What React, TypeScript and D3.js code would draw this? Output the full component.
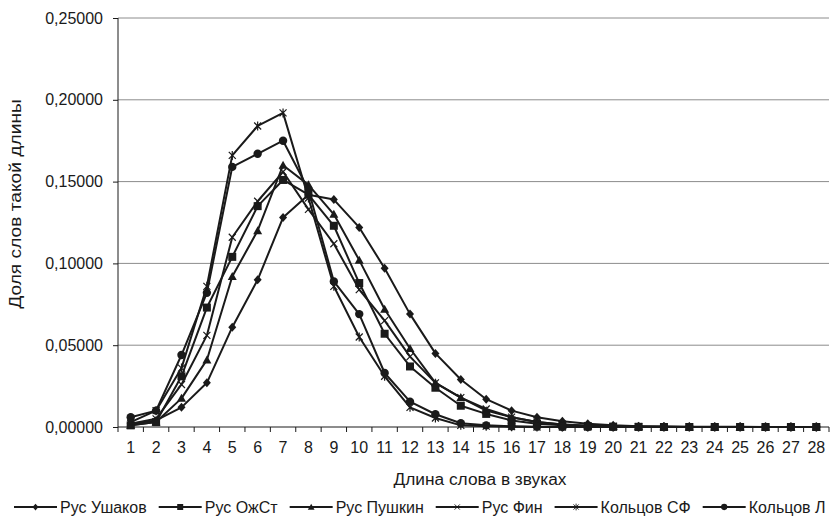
import React, { useEffect, useRef } from 'react';
import * as d3 from 'd3';

const lengths = d3.range(1, 29);
const yTicks = [0, 0.05, 0.1, 0.15, 0.2, 0.25];

const ushakov = [0.002, 0.004, 0.012, 0.027, 0.061, 0.090, 0.128, 0.142, 0.139, 0.122, 0.097, 0.069, 0.045, 0.029, 0.017, 0.010, 0.006, 0.0035, 0.002, 0.001, 0.0005, 0.0003, 0.0002, 0.0001, 0.0001, 0, 0, 0];
const ozhst = [0.001, 0.003, 0.031, 0.073, 0.104, 0.135, 0.151, 0.142, 0.123, 0.088, 0.057, 0.037, 0.024, 0.013, 0.008, 0.004, 0.002, 0.001, 0.0005, 0.0002, 0.0001, 0, 0, 0, 0, 0, 0, 0];
const pushkin = [0.001, 0.003, 0.0175, 0.041, 0.092, 0.120, 0.160, 0.148, 0.130, 0.102, 0.072, 0.048, 0.027, 0.018, 0.010, 0.006, 0.003, 0.0015, 0.0008, 0.0004, 0.0002, 0.0001, 0, 0, 0, 0, 0, 0];
const fin = [0.002, 0.005, 0.026, 0.056, 0.116, 0.138, 0.156, 0.133, 0.112, 0.084, 0.065, 0.043, 0.027, 0.018, 0.011, 0.006, 0.003, 0.0015, 0.0008, 0.0004, 0.0002, 0.0001, 0, 0, 0, 0, 0, 0];
const koltsovSF = [0.003, 0.010, 0.036, 0.086, 0.166, 0.184, 0.192, 0.140, 0.086, 0.055, 0.031, 0.012, 0.0055, 0.001, 0.0005, 0.0002, 0, 0, 0, 0, 0, 0, 0, 0, 0, 0, 0, 0];
const koltsovL = [0.006, 0.010, 0.044, 0.082, 0.159, 0.167, 0.175, 0.145, 0.089, 0.069, 0.033, 0.0155, 0.0078, 0.0023, 0.001, 0.0005, 0.0002, 0, 0, 0, 0, 0, 0, 0, 0, 0, 0, 0];

const seriesNames = ['Рус Ушаков', 'Рус ОжСт', 'Рус Пушкин', 'Рус Фин', 'Кольцов СФ', 'Кольцов Л'];
const seriesValues = [ushakov, ozhst, pushkin, fin, koltsovSF, koltsovL];
const markers = ['diamond', 'square', 'triangle', 'x', 'star', 'circle'];

const FONT = '"Liberation Sans", Arial, sans-serif';
const INK = '#1a1a1a';

function drawMarker(g: d3.Selection<SVGGElement, unknown, null, undefined>, kind: string, cx: number, cy: number, s = 1) {
  const t = `translate(${cx},${cy}) scale(${s})`;
  if (kind === 'diamond') {
    g.append('path').attr('transform', t).attr('d', 'M0,-4.5L4,0L0,4.5L-4,0Z').attr('fill', INK);
  } else if (kind === 'square') {
    g.append('path').attr('transform', t).attr('d', 'M-4,-4H4V4H-4Z').attr('fill', INK);
  } else if (kind === 'triangle') {
    g.append('path').attr('transform', t).attr('d', 'M0,-4.5L4.5,3.5L-4.5,3.5Z').attr('fill', INK);
  } else if (kind === 'x') {
    g.append('path').attr('transform', t).attr('d', 'M-3.5,-3.5L3.5,3.5M-3.5,3.5L3.5,-3.5')
      .attr('stroke', INK).attr('stroke-width', 1.2).attr('fill', 'none');
  } else if (kind === 'star') {
    g.append('path').attr('transform', t).attr('d', 'M-3.5,-3.5L3.5,3.5M-3.5,3.5L3.5,-3.5M0,-4.5L0,4.5')
      .attr('stroke', INK).attr('stroke-width', 1.2).attr('fill', 'none');
  } else {
    g.append('circle').attr('transform', t).attr('r', 4.2).attr('fill', INK);
  }
}

export default function App() {
  const svgRef = useRef<SVGSVGElement>(null);

  useEffect(() => {
    if (!svgRef.current) return;
    const svg = d3.select(svgRef.current);
    svg.selectAll('*').remove();

    const left = 118, right = 829, top = 18, bottom = 427;

    const x = d3.scaleBand<number>().domain(lengths).range([left, right]);
    const y = d3.scaleLinear().domain([0, 0.25]).range([bottom, top]);
    const cx = (d: number) => x(d)! + x.bandwidth() / 2;

    // gridlines
    svg.append('g')
      .selectAll('line')
      .data(yTicks.slice(1))
      .join('line')
      .attr('x1', left).attr('x2', right)
      .attr('y1', (d) => y(d)).attr('y2', (d) => y(d))
      .attr('stroke', '#8c8c8c').attr('stroke-width', 1);

    // y axis
    const yAxis = svg.append('g')
      .attr('transform', `translate(${left},0)`)
      .call(d3.axisLeft(y).tickValues(yTicks).tickSize(5).tickPadding(10)
        .tickFormat((d) => d3.format('.5f')(d as number).replace('.', ',')));
    yAxis.select('.domain').attr('stroke', INK).attr('d', `M0,${top}V${bottom}`);
    yAxis.selectAll('.tick line').attr('stroke', INK);
    yAxis.selectAll('text').attr('font-family', FONT).attr('font-size', 16).attr('fill', INK);

    // x axis
    const xAxis = svg.append('g').attr('transform', `translate(0,${bottom})`);
    xAxis.append('line').attr('x1', left).attr('x2', right).attr('stroke', INK);
    xAxis.selectAll('.xt')
      .data(d3.range(0, lengths.length + 1))
      .join('line')
      .attr('x1', (i) => left + i * x.step()).attr('x2', (i) => left + i * x.step())
      .attr('y1', 0).attr('y2', 5).attr('stroke', INK);
    xAxis.selectAll('text')
      .data(lengths)
      .join('text')
      .attr('x', (d) => cx(d)).attr('y', 26)
      .attr('text-anchor', 'middle')
      .attr('font-family', FONT).attr('font-size', 16).attr('fill', INK)
      .text((d) => d);

    // titles
    svg.append('text')
      .attr('x', 480).attr('y', 485)
      .attr('text-anchor', 'middle')
      .attr('font-family', FONT).attr('font-size', 17.3).attr('fill', INK)
      .text('Длина слова в звуках');
    svg.append('text')
      .attr('transform', `translate(21,204) scale(1,1.2) rotate(-90)`)
      .attr('text-anchor', 'middle')
      .attr('font-family', FONT).attr('font-size', 16).attr('fill', INK)
      .text('Доля слов такой длины');

    // series
    const line = d3.line<number>().x((_, i) => cx(lengths[i])).y((d) => y(d));
    seriesValues.forEach((vals, si) => {
      const g = svg.append('g');
      g.append('path').datum(vals).attr('d', line).attr('fill', 'none')
        .attr('stroke', INK).attr('stroke-width', 2).attr('stroke-linejoin', 'round');
      vals.forEach((v, i) => drawMarker(g, markers[si], cx(lengths[i]), y(v)));
    });

    // legend
    const legend = svg.append('g');
    let lx = 14;
    const ly = 507;
    seriesNames.forEach((name, si) => {
      legend.append('line').attr('x1', lx).attr('x2', lx + 43).attr('y1', ly).attr('y2', ly)
        .attr('stroke', INK).attr('stroke-width', 2);
      drawMarker(legend, markers[si], lx + 21.5, ly, 0.75);
      const t = legend.append('text')
        .attr('x', lx + 46).attr('y', ly + 5.5)
        .attr('font-family', FONT).attr('font-size', 16).attr('fill', INK)
        .text(name);
      const w = (t.node() as SVGTextElement).getComputedTextLength();
      lx += 46 + w + 12;
    });
  }, []);

  return (
    <svg ref={svgRef} width={834} height={523}
      style={{ position: 'absolute', left: 0, top: 0, background: '#fff' }} />
  );
}
